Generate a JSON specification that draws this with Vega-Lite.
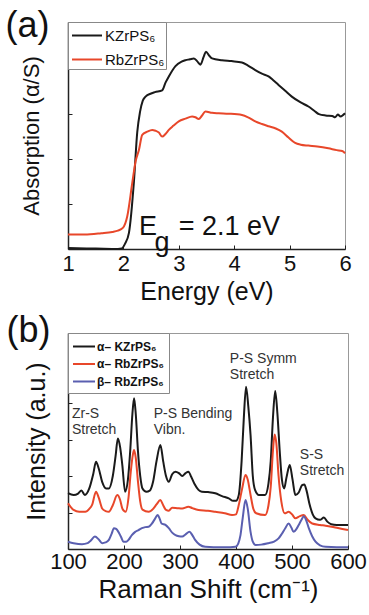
{
  "$schema": "https://vega.github.io/schema/vega-lite/v6.json",
  "padding": {"left": 5, "top": 7, "right": 5, "bottom": 5},
  "spacing": 7,
  "config": {
    "font": "Liberation Sans",
    "view": {"stroke": "#999", "strokeWidth": 1},
    "axis": {"grid": false, "domainColor": "#222", "domainWidth": 1.5, "tickColor": "#222", "tickSize": -4, "labelColor": "#111", "titleColor": "#111", "labelFontSize": 22, "titleFontSize": 25, "titleFontWeight": "normal", "labelFlush": false},
    "legend": {"orient": "top-left", "offset": 0, "strokeColor": "#888", "fillColor": "white", "title": null, "symbolStrokeWidth": 2, "labelColor": "#111"},
    "title": {"fontWeight": "normal", "color": "#111"}
  },
  "resolve": {"scale": {"color": "independent", "x": "independent", "y": "independent"}, "legend": {"color": "independent"}},
  "vconcat": [
    {
      "title": {"text": "(a)", "anchor": "start", "frame": "bounds", "fontSize": 36, "offset": -23, "dx": -15},
      "width": 277,
      "height": 227,
      "layer": [
        {
          "data": {"values": [
            {"x":1,"y":0.02,"s":"KZrPS₆"},{"x":1.5,"y":0.01,"s":"KZrPS₆"},{"x":1.9,"y":0.0,"s":"KZrPS₆"},{"x":1.97,"y":0.01,"s":"KZrPS₆"},{"x":2.03,"y":0.12,"s":"KZrPS₆"},{"x":2.1,"y":0.36,"s":"KZrPS₆"},{"x":2.19,"y":1.5,"s":"KZrPS₆"},{"x":2.25,"y":2.6,"s":"KZrPS₆"},{"x":2.3,"y":3.05,"s":"KZrPS₆"},{"x":2.35,"y":3.3,"s":"KZrPS₆"},{"x":2.4,"y":3.39,"s":"KZrPS₆"},{"x":2.5,"y":3.46,"s":"KZrPS₆"},{"x":2.57,"y":3.49,"s":"KZrPS₆"},{"x":2.7,"y":3.53,"s":"KZrPS₆"},{"x":2.76,"y":3.7,"s":"KZrPS₆"},{"x":2.82,"y":3.84,"s":"KZrPS₆"},{"x":2.94,"y":4.07,"s":"KZrPS₆"},{"x":3.05,"y":4.17,"s":"KZrPS₆"},{"x":3.12,"y":4.2,"s":"KZrPS₆"},{"x":3.2,"y":4.22,"s":"KZrPS₆"},{"x":3.27,"y":4.24,"s":"KZrPS₆"},{"x":3.33,"y":4.18,"s":"KZrPS₆"},{"x":3.39,"y":4.1,"s":"KZrPS₆"},{"x":3.45,"y":4.28,"s":"KZrPS₆"},{"x":3.49,"y":4.39,"s":"KZrPS₆"},{"x":3.55,"y":4.3,"s":"KZrPS₆"},{"x":3.6,"y":4.24,"s":"KZrPS₆"},{"x":3.78,"y":4.2,"s":"KZrPS₆"},{"x":3.95,"y":4.18,"s":"KZrPS₆"},{"x":4.14,"y":4.15,"s":"KZrPS₆"},{"x":4.25,"y":4.08,"s":"KZrPS₆"},{"x":4.38,"y":3.98,"s":"KZrPS₆"},{"x":4.5,"y":3.9,"s":"KZrPS₆"},{"x":4.62,"y":3.84,"s":"KZrPS₆"},{"x":4.7,"y":3.76,"s":"KZrPS₆"},{"x":4.8,"y":3.65,"s":"KZrPS₆"},{"x":4.92,"y":3.52,"s":"KZrPS₆"},{"x":5.04,"y":3.39,"s":"KZrPS₆"},{"x":5.2,"y":3.26,"s":"KZrPS₆"},{"x":5.34,"y":3.17,"s":"KZrPS₆"},{"x":5.45,"y":3.07,"s":"KZrPS₆"},{"x":5.53,"y":3.0,"s":"KZrPS₆"},{"x":5.65,"y":2.97,"s":"KZrPS₆"},{"x":5.77,"y":2.96,"s":"KZrPS₆"},{"x":5.82,"y":2.93,"s":"KZrPS₆"},{"x":5.87,"y":2.99,"s":"KZrPS₆"},{"x":5.92,"y":2.95,"s":"KZrPS₆"},{"x":6.0,"y":3.02,"s":"KZrPS₆"},
            {"x":1,"y":0.32,"s":"RbZrPS₆"},{"x":1.3,"y":0.32,"s":"RbZrPS₆"},{"x":1.6,"y":0.35,"s":"RbZrPS₆"},{"x":1.8,"y":0.38,"s":"RbZrPS₆"},{"x":1.9,"y":0.41,"s":"RbZrPS₆"},{"x":1.99,"y":0.47,"s":"RbZrPS₆"},{"x":2.07,"y":0.73,"s":"RbZrPS₆"},{"x":2.16,"y":1.47,"s":"RbZrPS₆"},{"x":2.22,"y":1.95,"s":"RbZrPS₆"},{"x":2.28,"y":2.2,"s":"RbZrPS₆"},{"x":2.34,"y":2.54,"s":"RbZrPS₆"},{"x":2.43,"y":2.61,"s":"RbZrPS₆"},{"x":2.52,"y":2.65,"s":"RbZrPS₆"},{"x":2.58,"y":2.63,"s":"RbZrPS₆"},{"x":2.64,"y":2.59,"s":"RbZrPS₆"},{"x":2.7,"y":2.5,"s":"RbZrPS₆"},{"x":2.76,"y":2.56,"s":"RbZrPS₆"},{"x":2.82,"y":2.65,"s":"RbZrPS₆"},{"x":2.9,"y":2.74,"s":"RbZrPS₆"},{"x":3.0,"y":2.84,"s":"RbZrPS₆"},{"x":3.12,"y":2.9,"s":"RbZrPS₆"},{"x":3.24,"y":2.95,"s":"RbZrPS₆"},{"x":3.3,"y":2.93,"s":"RbZrPS₆"},{"x":3.36,"y":2.89,"s":"RbZrPS₆"},{"x":3.42,"y":2.97,"s":"RbZrPS₆"},{"x":3.48,"y":3.06,"s":"RbZrPS₆"},{"x":3.6,"y":3.03,"s":"RbZrPS₆"},{"x":3.72,"y":3.02,"s":"RbZrPS₆"},{"x":3.9,"y":3.01,"s":"RbZrPS₆"},{"x":4.14,"y":2.98,"s":"RbZrPS₆"},{"x":4.25,"y":2.93,"s":"RbZrPS₆"},{"x":4.38,"y":2.84,"s":"RbZrPS₆"},{"x":4.5,"y":2.78,"s":"RbZrPS₆"},{"x":4.62,"y":2.73,"s":"RbZrPS₆"},{"x":4.75,"y":2.68,"s":"RbZrPS₆"},{"x":4.86,"y":2.61,"s":"RbZrPS₆"},{"x":4.98,"y":2.48,"s":"RbZrPS₆"},{"x":5.1,"y":2.36,"s":"RbZrPS₆"},{"x":5.2,"y":2.32,"s":"RbZrPS₆"},{"x":5.34,"y":2.3,"s":"RbZrPS₆"},{"x":5.5,"y":2.28,"s":"RbZrPS₆"},{"x":5.7,"y":2.24,"s":"RbZrPS₆"},{"x":5.85,"y":2.2,"s":"RbZrPS₆"},{"x":5.95,"y":2.18,"s":"RbZrPS₆"},{"x":6.0,"y":2.13,"s":"RbZrPS₆"}
          ]},
          "mark": {"type": "line", "strokeWidth": 2, "interpolate": "monotone"},
          "encoding": {
            "x": {"field": "x", "type": "quantitative", "scale": {"domain": [1, 6], "nice": false}, "axis": {"values": [1,2,3,4,5,6], "title": "Energy (eV)", "titleFontSize": 25, "labelPadding": 8, "titlePadding": 5}},
            "y": {"field": "y", "type": "quantitative", "scale": {"domain": [0, 5.05], "nice": false}, "axis": {"values": [1,2,3,4,5], "labels": false, "title": "Absorption (α/S)", "titleFontSize": 22, "titlePadding": 24}},
            "color": {"field": "s", "type": "nominal", "scale": {"domain": ["KZrPS₆", "RbZrPS₆"], "range": ["#1a1a1a", "#e8472a"]}, "legend": {"labelFontSize": 15, "symbolType": "M-0.826,0H1.783", "symbolSize": 529, "padding": 1, "rowPadding": 3, "labelOffset": 11}}
          }
        },
        {
          "data": {"values": [{"x": 2.28, "y": 0.31, "t": "E"}, {"x": 2.56, "y": -0.05, "t": "g"}, {"x": 3.0, "y": 0.31, "t": "= 2.1 eV"}]},
          "mark": {"type": "text", "align": "left", "baseline": "alphabetic", "fontSize": 27, "color": "#111"},
          "encoding": {"x": {"field": "x", "type": "quantitative"}, "y": {"field": "y", "type": "quantitative"}, "text": {"field": "t"}}
        }
      ]
    },
    {
      "title": {"text": "(b)", "anchor": "start", "frame": "bounds", "fontSize": 36, "offset": -17, "dx": -18},
      "width": 280,
      "height": 216,
      "layer": [
        {
          "data": {"values": [
            {"x":100,"y":1.53,"s":"α– KZrPS₆"},{"x":110,"y":1.48,"s":"α– KZrPS₆"},{"x":118,"y":1.52,"s":"α– KZrPS₆"},{"x":124,"y":1.6,"s":"α– KZrPS₆"},{"x":130,"y":1.48,"s":"α– KZrPS₆"},{"x":138,"y":1.66,"s":"α– KZrPS₆"},{"x":145,"y":2.05,"s":"α– KZrPS₆"},{"x":150,"y":2.39,"s":"α– KZrPS₆"},{"x":155,"y":2.2,"s":"α– KZrPS₆"},{"x":161,"y":1.84,"s":"α– KZrPS₆"},{"x":168,"y":1.66,"s":"α– KZrPS₆"},{"x":173,"y":1.66,"s":"α– KZrPS₆"},{"x":180,"y":2.0,"s":"α– KZrPS₆"},{"x":185,"y":2.55,"s":"α– KZrPS₆"},{"x":189,"y":3.03,"s":"α– KZrPS₆"},{"x":193,"y":2.8,"s":"α– KZrPS₆"},{"x":197,"y":2.3,"s":"α– KZrPS₆"},{"x":202,"y":1.57,"s":"α– KZrPS₆"},{"x":207,"y":1.9,"s":"α– KZrPS₆"},{"x":211,"y":2.67,"s":"α– KZrPS₆"},{"x":215,"y":3.7,"s":"α– KZrPS₆"},{"x":218,"y":4.13,"s":"α– KZrPS₆"},{"x":221,"y":3.7,"s":"α– KZrPS₆"},{"x":225,"y":2.67,"s":"α– KZrPS₆"},{"x":229,"y":2.0,"s":"α– KZrPS₆"},{"x":233,"y":1.66,"s":"α– KZrPS₆"},{"x":240,"y":1.57,"s":"α– KZrPS₆"},{"x":246,"y":1.6,"s":"α– KZrPS₆"},{"x":252,"y":1.85,"s":"α– KZrPS₆"},{"x":258,"y":2.4,"s":"α– KZrPS₆"},{"x":265,"y":2.85,"s":"α– KZrPS₆"},{"x":270,"y":2.4,"s":"α– KZrPS₆"},{"x":275,"y":2.0,"s":"α– KZrPS₆"},{"x":280,"y":1.84,"s":"α– KZrPS₆"},{"x":286,"y":2.05,"s":"α– KZrPS₆"},{"x":292,"y":2.12,"s":"α– KZrPS₆"},{"x":298,"y":2.08,"s":"α– KZrPS₆"},{"x":304,"y":2.0,"s":"α– KZrPS₆"},{"x":310,"y":2.08,"s":"α– KZrPS₆"},{"x":315,"y":2.12,"s":"α– KZrPS₆"},{"x":320,"y":1.98,"s":"α– KZrPS₆"},{"x":326,"y":1.78,"s":"α– KZrPS₆"},{"x":333,"y":1.62,"s":"α– KZrPS₆"},{"x":339,"y":1.57,"s":"α– KZrPS₆"},{"x":350,"y":1.56,"s":"α– KZrPS₆"},{"x":363,"y":1.53,"s":"α– KZrPS₆"},{"x":375,"y":1.45,"s":"α– KZrPS₆"},{"x":387,"y":1.39,"s":"α– KZrPS₆"},{"x":395,"y":1.32,"s":"α– KZrPS₆"},{"x":400,"y":1.32,"s":"α– KZrPS₆"},{"x":405,"y":1.48,"s":"α– KZrPS₆"},{"x":410,"y":2.4,"s":"α– KZrPS₆"},{"x":414,"y":3.6,"s":"α– KZrPS₆"},{"x":418,"y":4.45,"s":"α– KZrPS₆"},{"x":422,"y":3.9,"s":"α– KZrPS₆"},{"x":426,"y":3.12,"s":"α– KZrPS₆"},{"x":430,"y":2.0,"s":"α– KZrPS₆"},{"x":434,"y":1.62,"s":"α– KZrPS₆"},{"x":441,"y":1.48,"s":"α– KZrPS₆"},{"x":452,"y":1.48,"s":"α– KZrPS₆"},{"x":458,"y":1.8,"s":"α– KZrPS₆"},{"x":462,"y":2.4,"s":"α– KZrPS₆"},{"x":466,"y":3.6,"s":"α– KZrPS₆"},{"x":470,"y":4.33,"s":"α– KZrPS₆"},{"x":474,"y":3.7,"s":"α– KZrPS₆"},{"x":478,"y":2.7,"s":"α– KZrPS₆"},{"x":482,"y":1.9,"s":"α– KZrPS₆"},{"x":486,"y":1.66,"s":"α– KZrPS₆"},{"x":490,"y":1.95,"s":"α– KZrPS₆"},{"x":496,"y":2.3,"s":"α– KZrPS₆"},{"x":501,"y":1.9,"s":"α– KZrPS₆"},{"x":506,"y":1.48,"s":"α– KZrPS₆"},{"x":512,"y":1.55,"s":"α– KZrPS₆"},{"x":518,"y":1.75,"s":"α– KZrPS₆"},{"x":522,"y":1.77,"s":"α– KZrPS₆"},{"x":526,"y":1.6,"s":"α– KZrPS₆"},{"x":531,"y":1.25,"s":"α– KZrPS₆"},{"x":537,"y":0.95,"s":"α– KZrPS₆"},{"x":542,"y":0.84,"s":"α– KZrPS₆"},{"x":550,"y":0.8,"s":"α– KZrPS₆"},{"x":557,"y":0.86,"s":"α– KZrPS₆"},{"x":563,"y":0.75,"s":"α– KZrPS₆"},{"x":570,"y":0.68,"s":"α– KZrPS₆"},{"x":580,"y":0.66,"s":"α– KZrPS₆"},{"x":600,"y":0.66,"s":"α– KZrPS₆"},
            {"x":100,"y":1.25,"s":"α– RbZrPS₆"},{"x":105,"y":1.15,"s":"α– RbZrPS₆"},{"x":110,"y":1.07,"s":"α– RbZrPS₆"},{"x":120,"y":1.02,"s":"α– RbZrPS₆"},{"x":131,"y":1.02,"s":"α– RbZrPS₆"},{"x":138,"y":1.1,"s":"α– RbZrPS₆"},{"x":143,"y":1.21,"s":"α– RbZrPS₆"},{"x":150,"y":1.57,"s":"α– RbZrPS₆"},{"x":155,"y":1.4,"s":"α– RbZrPS₆"},{"x":161,"y":1.11,"s":"α– RbZrPS₆"},{"x":167,"y":1.04,"s":"α– RbZrPS₆"},{"x":173,"y":1.02,"s":"α– RbZrPS₆"},{"x":180,"y":1.2,"s":"α– RbZrPS₆"},{"x":188,"y":1.48,"s":"α– RbZrPS₆"},{"x":193,"y":1.35,"s":"α– RbZrPS₆"},{"x":197,"y":1.11,"s":"α– RbZrPS₆"},{"x":203,"y":1.02,"s":"α– RbZrPS₆"},{"x":208,"y":1.4,"s":"α– RbZrPS₆"},{"x":212,"y":2.1,"s":"α– RbZrPS₆"},{"x":216,"y":2.6,"s":"α– RbZrPS₆"},{"x":218,"y":2.71,"s":"α– RbZrPS₆"},{"x":221,"y":2.5,"s":"α– RbZrPS₆"},{"x":225,"y":1.84,"s":"α– RbZrPS₆"},{"x":229,"y":1.3,"s":"α– RbZrPS₆"},{"x":233,"y":1.08,"s":"α– RbZrPS₆"},{"x":244,"y":1.02,"s":"α– RbZrPS₆"},{"x":252,"y":1.1,"s":"α– RbZrPS₆"},{"x":258,"y":1.22,"s":"α– RbZrPS₆"},{"x":265,"y":1.34,"s":"α– RbZrPS₆"},{"x":270,"y":1.2,"s":"α– RbZrPS₆"},{"x":275,"y":1.07,"s":"α– RbZrPS₆"},{"x":280,"y":1.05,"s":"α– RbZrPS₆"},{"x":286,"y":1.13,"s":"α– RbZrPS₆"},{"x":295,"y":1.12,"s":"α– RbZrPS₆"},{"x":304,"y":1.11,"s":"α– RbZrPS₆"},{"x":315,"y":1.16,"s":"α– RbZrPS₆"},{"x":322,"y":1.12,"s":"α– RbZrPS₆"},{"x":333,"y":1.07,"s":"α– RbZrPS₆"},{"x":350,"y":1.05,"s":"α– RbZrPS₆"},{"x":363,"y":1.02,"s":"α– RbZrPS₆"},{"x":380,"y":0.98,"s":"α– RbZrPS₆"},{"x":393,"y":0.93,"s":"α– RbZrPS₆"},{"x":400,"y":0.95,"s":"α– RbZrPS₆"},{"x":405,"y":1.21,"s":"α– RbZrPS₆"},{"x":411,"y":1.66,"s":"α– RbZrPS₆"},{"x":417,"y":2.03,"s":"α– RbZrPS₆"},{"x":421,"y":1.9,"s":"α– RbZrPS₆"},{"x":426,"y":1.48,"s":"α– RbZrPS₆"},{"x":431,"y":1.1,"s":"α– RbZrPS₆"},{"x":436,"y":0.98,"s":"α– RbZrPS₆"},{"x":452,"y":0.93,"s":"α– RbZrPS₆"},{"x":458,"y":1.2,"s":"α– RbZrPS₆"},{"x":462,"y":1.7,"s":"α– RbZrPS₆"},{"x":466,"y":2.7,"s":"α– RbZrPS₆"},{"x":469,"y":3.14,"s":"α– RbZrPS₆"},{"x":472,"y":2.9,"s":"α– RbZrPS₆"},{"x":476,"y":2.0,"s":"α– RbZrPS₆"},{"x":481,"y":1.3,"s":"α– RbZrPS₆"},{"x":487,"y":0.98,"s":"α– RbZrPS₆"},{"x":494,"y":1.02,"s":"α– RbZrPS₆"},{"x":500,"y":0.95,"s":"α– RbZrPS₆"},{"x":506,"y":0.84,"s":"α– RbZrPS₆"},{"x":514,"y":0.9,"s":"α– RbZrPS₆"},{"x":521,"y":0.93,"s":"α– RbZrPS₆"},{"x":528,"y":0.8,"s":"α– RbZrPS₆"},{"x":536,"y":0.7,"s":"α– RbZrPS₆"},{"x":550,"y":0.66,"s":"α– RbZrPS₆"},{"x":560,"y":0.64,"s":"α– RbZrPS₆"},{"x":580,"y":0.58,"s":"α– RbZrPS₆"},{"x":600,"y":0.52,"s":"α– RbZrPS₆"},
            {"x":100,"y":0.2,"s":"β– RbZrPS₆"},{"x":110,"y":0.16,"s":"β– RbZrPS₆"},{"x":125,"y":0.13,"s":"β– RbZrPS₆"},{"x":135,"y":0.16,"s":"β– RbZrPS₆"},{"x":140,"y":0.22,"s":"β– RbZrPS₆"},{"x":148,"y":0.34,"s":"β– RbZrPS₆"},{"x":155,"y":0.26,"s":"β– RbZrPS₆"},{"x":161,"y":0.16,"s":"β– RbZrPS₆"},{"x":167,"y":0.18,"s":"β– RbZrPS₆"},{"x":173,"y":0.25,"s":"β– RbZrPS₆"},{"x":178,"y":0.42,"s":"β– RbZrPS₆"},{"x":182,"y":0.57,"s":"β– RbZrPS₆"},{"x":186,"y":0.55,"s":"β– RbZrPS₆"},{"x":190,"y":0.47,"s":"β– RbZrPS₆"},{"x":195,"y":0.32,"s":"β– RbZrPS₆"},{"x":199,"y":0.2,"s":"β– RbZrPS₆"},{"x":204,"y":0.2,"s":"β– RbZrPS₆"},{"x":208,"y":0.25,"s":"β– RbZrPS₆"},{"x":214,"y":0.38,"s":"β– RbZrPS₆"},{"x":220,"y":0.47,"s":"β– RbZrPS₆"},{"x":226,"y":0.52,"s":"β– RbZrPS₆"},{"x":232,"y":0.57,"s":"β– RbZrPS₆"},{"x":238,"y":0.6,"s":"β– RbZrPS₆"},{"x":244,"y":0.61,"s":"β– RbZrPS₆"},{"x":250,"y":0.7,"s":"β– RbZrPS₆"},{"x":255,"y":0.82,"s":"β– RbZrPS₆"},{"x":260,"y":0.93,"s":"β– RbZrPS₆"},{"x":264,"y":0.82,"s":"β– RbZrPS₆"},{"x":267,"y":0.7,"s":"β– RbZrPS₆"},{"x":274,"y":0.66,"s":"β– RbZrPS₆"},{"x":280,"y":0.57,"s":"β– RbZrPS₆"},{"x":286,"y":0.45,"s":"β– RbZrPS₆"},{"x":292,"y":0.38,"s":"β– RbZrPS₆"},{"x":298,"y":0.35,"s":"β– RbZrPS₆"},{"x":304,"y":0.34,"s":"β– RbZrPS₆"},{"x":310,"y":0.4,"s":"β– RbZrPS₆"},{"x":317,"y":0.47,"s":"β– RbZrPS₆"},{"x":322,"y":0.38,"s":"β– RbZrPS₆"},{"x":327,"y":0.25,"s":"β– RbZrPS₆"},{"x":335,"y":0.12,"s":"β– RbZrPS₆"},{"x":345,"y":0.06,"s":"β– RbZrPS₆"},{"x":360,"y":0.05,"s":"β– RbZrPS₆"},{"x":375,"y":0.05,"s":"β– RbZrPS₆"},{"x":390,"y":0.05,"s":"β– RbZrPS₆"},{"x":399,"y":0.06,"s":"β– RbZrPS₆"},{"x":404,"y":0.15,"s":"β– RbZrPS₆"},{"x":408,"y":0.38,"s":"β– RbZrPS₆"},{"x":412,"y":0.85,"s":"β– RbZrPS₆"},{"x":417,"y":1.34,"s":"β– RbZrPS₆"},{"x":421,"y":1.1,"s":"β– RbZrPS₆"},{"x":426,"y":0.47,"s":"β– RbZrPS₆"},{"x":430,"y":0.2,"s":"β– RbZrPS₆"},{"x":435,"y":0.11,"s":"β– RbZrPS₆"},{"x":445,"y":0.12,"s":"β– RbZrPS₆"},{"x":458,"y":0.16,"s":"β– RbZrPS₆"},{"x":468,"y":0.2,"s":"β– RbZrPS₆"},{"x":476,"y":0.29,"s":"β– RbZrPS₆"},{"x":482,"y":0.42,"s":"β– RbZrPS₆"},{"x":488,"y":0.57,"s":"β– RbZrPS₆"},{"x":494,"y":0.7,"s":"β– RbZrPS₆"},{"x":499,"y":0.58,"s":"β– RbZrPS₆"},{"x":503,"y":0.47,"s":"β– RbZrPS₆"},{"x":508,"y":0.55,"s":"β– RbZrPS₆"},{"x":512,"y":0.66,"s":"β– RbZrPS₆"},{"x":517,"y":0.8,"s":"β– RbZrPS₆"},{"x":521,"y":0.9,"s":"β– RbZrPS₆"},{"x":525,"y":0.8,"s":"β– RbZrPS₆"},{"x":530,"y":0.57,"s":"β– RbZrPS₆"},{"x":536,"y":0.35,"s":"β– RbZrPS₆"},{"x":542,"y":0.2,"s":"β– RbZrPS₆"},{"x":550,"y":0.1,"s":"β– RbZrPS₆"},{"x":560,"y":0.06,"s":"β– RbZrPS₆"},{"x":580,"y":0.05,"s":"β– RbZrPS₆"},{"x":600,"y":0.05,"s":"β– RbZrPS₆"}
          ]},
          "mark": {"type": "line", "strokeWidth": 2, "interpolate": "monotone"},
          "encoding": {
            "x": {"field": "x", "type": "quantitative", "scale": {"domain": [100, 600], "nice": false}, "axis": {"values": [100,200,300,400,500,600], "title": "Raman Shift (cm⁻¹)", "titleFontSize": 26, "labelPadding": 6, "titlePadding": 4}},
            "y": {"field": "y", "type": "quantitative", "scale": {"domain": [0, 5.92], "nice": false}, "axis": {"values": [1,2,3,4,5], "labels": false, "title": "Intensity (a.u.)", "titleFontSize": 25, "titlePadding": 18}},
            "color": {"field": "s", "type": "nominal", "scale": {"domain": ["α– KZrPS₆", "α– RbZrPS₆", "β– RbZrPS₆"], "range": ["#1a1a1a", "#e8472a", "#5a5fb0"]}, "legend": {"labelFontSize": 12, "labelFontWeight": "bold", "symbolType": "M-1.13,0H1.8", "symbolSize": 225, "padding": 5, "rowPadding": 2.5, "labelOffset": 7}}
          }
        },
        {
          "data": {"values": [{"x": 107, "y": 3.89, "t": "Zr-S\nStretch"}, {"x": 253, "y": 3.89, "t": "P-S Bending\nVibn."}, {"x": 389, "y": 5.4, "t": "P-S Symm\nStretch"}, {"x": 514, "y": 2.77, "t": "S-S\nStretch"}]},
          "mark": {"type": "text", "align": "left", "baseline": "top", "fontSize": 14, "lineHeight": 16, "lineBreak": "\n", "color": "#333"},
          "encoding": {"x": {"field": "x", "type": "quantitative"}, "y": {"field": "y", "type": "quantitative"}, "text": {"field": "t"}}
        }
      ]
    }
  ]
}
